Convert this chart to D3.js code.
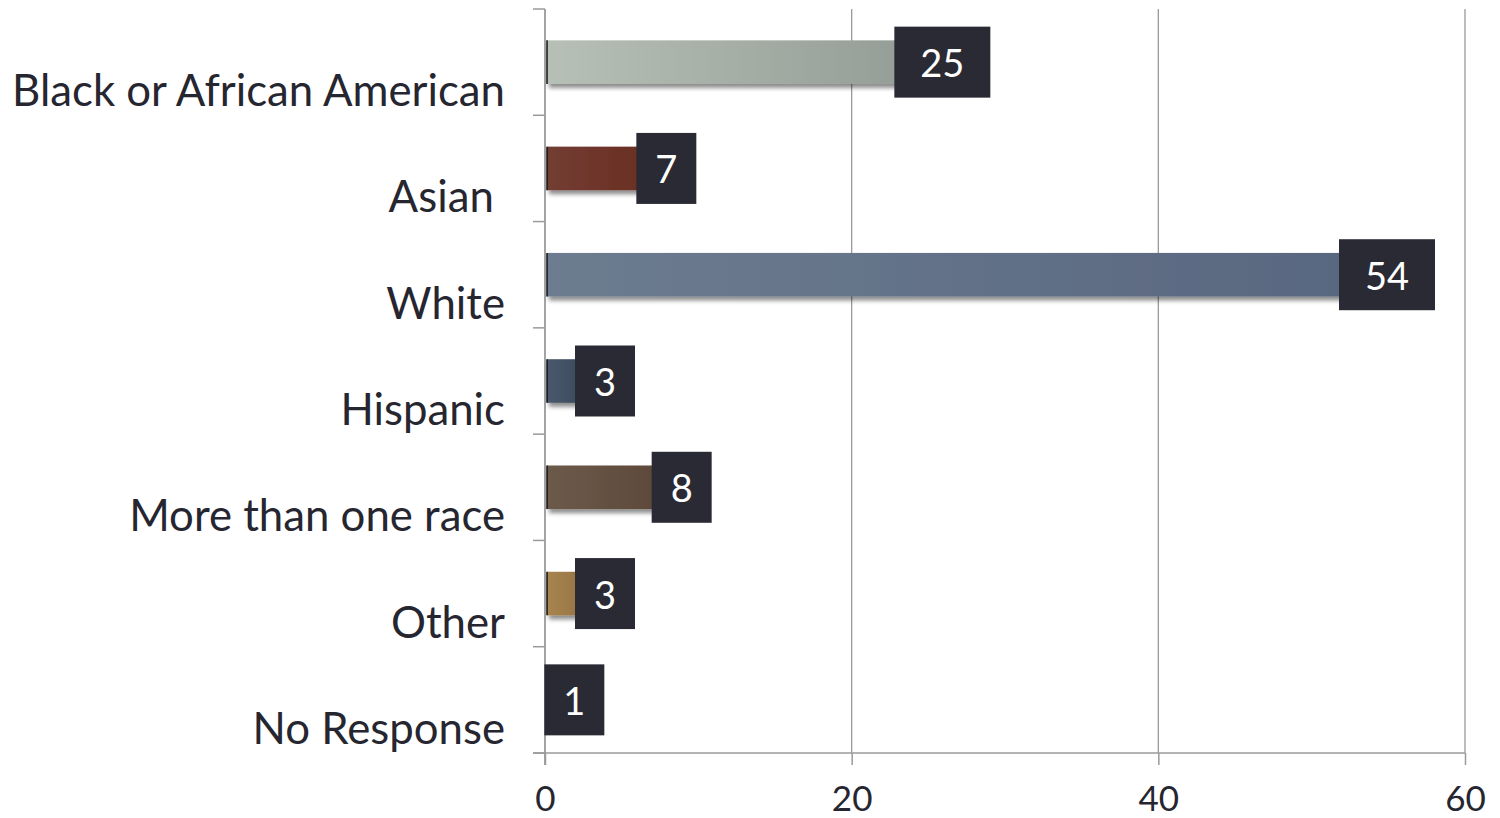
<!DOCTYPE html>
<html>
<head>
<meta charset="utf-8">
<script src="https://cdn.jsdelivr.net/npm/d3@7"></script>
<style>
  html, body { margin: 0; padding: 0; background: #fff; }
  svg { display: block; }
  text { font-family: Lato, "Noto Sans", sans-serif; }
</style>
</head>
<body>
<svg id="chart" width="1500" height="818"></svg>
<script>
// ---- data ----
const categories = ["Black or African American", "Asian ", "White", "Hispanic", "More than one race", "Other", "No Response"];
const values = [25, 7, 54, 3, 8, 3, 1];
const barColorsStart = ["#b6c0b6", "#733d33", "#6d7c90", "#4a596b", "#6c5a4b", "#a8854f", "#888888"];
const barColorsEnd   = ["#929c95", "#6a2d21", "#58667f", "#36465a", "#5c4738", "#92703f", "#777777"];
const xTicks = [0, 20, 40, 60];

// ---- layout ----
const svg = d3.select("#chart");
const mLeft = 545, mRight = 1465, mTop = 9, mBottom = 753;
const axisColor = "#9a9a9a";
const textColor = "#262630";
const boxColor = "#2a2a34";

const x = d3.scaleLinear().domain([0, 60]).range([mLeft, mRight]);
const y = d3.scaleBand().domain(categories).range([mTop, mBottom]).paddingInner(0.59).paddingOuter(0.295);
const band = d3.scaleBand().domain(categories).range([mTop, mBottom]);

const defs = svg.append("defs");
categories.forEach((c, i) => {
  const g = defs.append("linearGradient").attr("id", "grad" + i)
    .attr("x1", "0%").attr("x2", "100%").attr("y1", "0%").attr("y2", "0%");
  g.append("stop").attr("offset", "0%").attr("stop-color", barColorsStart[i]);
  g.append("stop").attr("offset", "100%").attr("stop-color", barColorsEnd[i]);
});
const f = defs.append("filter").attr("id", "shadow").attr("x", "-5%").attr("y", "-30%").attr("width", "115%").attr("height", "180%");
f.append("feDropShadow").attr("dx", 2).attr("dy", 4).attr("stdDeviation", 2.2)
  .attr("flood-color", "#000").attr("flood-opacity", 0.45);

// gridlines
svg.append("g").selectAll("line").data(xTicks.filter(t => t > 0)).join("line")
  .attr("x1", d => x(d)).attr("x2", d => x(d))
  .attr("y1", mTop).attr("y2", mBottom)
  .attr("stroke", axisColor).attr("stroke-width", 1.3);

// x axis
const xAxis = d3.axisBottom(x).tickValues(xTicks).tickSize(12).tickPadding(0).tickFormat(d3.format("d"));
const gx = svg.append("g").attr("transform", `translate(0,${mBottom})`).call(xAxis);
gx.select(".domain").remove();
gx.append("line").attr("x1", mLeft - 12).attr("x2", mRight).attr("y1", 0).attr("y2", 0)
  .attr("stroke", axisColor).attr("stroke-width", 1.5);
gx.selectAll(".tick line").attr("stroke", axisColor).attr("stroke-width", 1.5);
gx.selectAll(".tick text").attr("fill", textColor).style("font-size", "35px")
  .attr("y", 44).attr("dy", null).attr("dominant-baseline", "central")
  .style("font-family", "Lato, 'Noto Sans', sans-serif");

// y axis: line + ticks at band boundaries
const gy = svg.append("g");
gy.append("line").attr("x1", mLeft).attr("x2", mLeft).attr("y1", mTop).attr("y2", mBottom + 12)
  .attr("stroke", axisColor).attr("stroke-width", 1.8);
const boundaries = categories.map(c => band(c)).concat([mBottom]);
gy.selectAll("line.tk").data(boundaries).join("line").attr("class", "tk")
  .attr("x1", mLeft - 12).attr("x2", mLeft).attr("y1", d => d).attr("y2", d => d)
  .attr("stroke", axisColor).attr("stroke-width", 1.5);

// category labels
const labels = svg.append("g").selectAll("text").data(categories).join("text")
  .attr("x", 505)
  .attr("y", d => band(d) + band.bandwidth() / 2 + 27)
  .attr("text-anchor", "end").attr("dominant-baseline", "central")
  .attr("fill", textColor).style("white-space", "pre")
  .style("font-size", "40px")
  .text(d => d);
const w0 = labels.nodes()[0].getComputedTextLength();
const fs = 40 * 493 / w0;
labels.style("font-size", fs + "px");

// bars
const data = categories.map((c, i) => ({ c, v: values[i], i }));
svg.append("g").selectAll("rect").data(data).join("rect")
  .attr("x", mLeft + 2).attr("y", d => y(d.c))
  .attr("width", d => x(d.v) - mLeft - 2).attr("height", y.bandwidth())
  .attr("fill", d => `url(#grad${d.i})`).attr("filter", "url(#shadow)");
svg.append("g").selectAll("line").data(data).join("line")
  .attr("x1", mLeft + 2).attr("x2", mLeft + 2)
  .attr("y1", d => y(d.c)).attr("y2", d => y(d.c) + y.bandwidth())
  .attr("stroke", "#111").attr("stroke-width", 1.5);

// value label boxes
const lbl = svg.append("g").selectAll("g").data(data).join("g")
  .attr("transform", d => `translate(${x(d.v) + 14},${band(d.c) + band.bandwidth() / 2})`);
lbl.append("rect")
  .attr("x", d => -(String(d.v).length > 1 ? 48 : 30))
  .attr("width", d => String(d.v).length > 1 ? 96 : 60)
  .attr("y", -35.5).attr("height", 71)
  .attr("fill", boxColor);
lbl.append("text").attr("text-anchor", "middle").attr("dominant-baseline", "central")
  .attr("fill", "#fff").style("font-size", "38px")
  .text(d => d.v);
</script>
</body>
</html>
